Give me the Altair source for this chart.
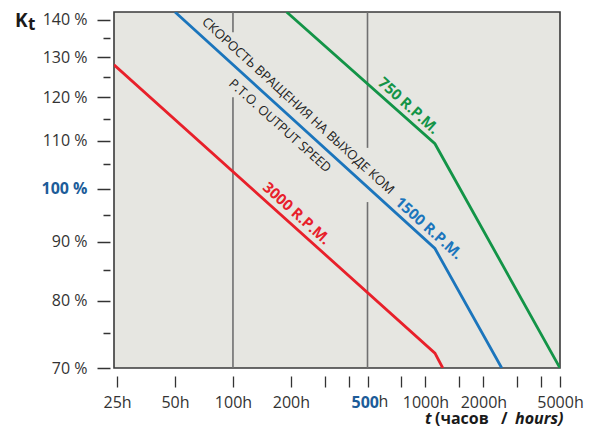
import altair as alt
import pandas as pd

# ---- data ----
hours_3000 = [24.1, 1120, 1230]
kt_3000 = [128.0, 72.1, 70.0]
hours_1500 = [50, 1120, 2490]
kt_1500 = [142.2, 88.8, 70.0]
hours_750 = [190, 1120, 5000]
kt_750 = [142.2, 109.4, 70.0]

series_names = ["3000 R.P.M.", "1500 R.P.M.", "750 R.P.M."]
series_colors = ["#e8202a", "#1b75bc", "#139447"]

y_major = [70, 80, 90, 100, 110, 120, 130, 140]
y_minor = [75, 85, 95, 105, 115, 125, 135]
x_ticks = [25, 50, 100, 200, 300, 400, 500, 750, 1000, 1500, 2000, 3000, 4000, 5000]
x_labelled = [25, 50, 100, 200, 1000, 2000, 5000]

# vertical reference lines (with gaps where the notes cross them)
grid_hours = [100, 100, 500, 500]
grid_from = [70, 136.6, 70, 108.5]
grid_to = [120, 142.2, 97.4, 142.2]

rpm_label_hours = [196, 955, 749]
rpm_label_kt = [93.7, 91.0, 116.1]

note_ru = "СКОРОСТЬ ВРАЩЕНИЯ НА ВЫХОДЕ КОМ"
note_en = "P.T.O. OUTPUT SPEED"
note_hours = [196]
note_kt = [115.7]

X_DOMAIN = [24.1, 5000]
Y_DOMAIN = [70, 142.2]
FONT = "Open Sans"
BLUE_LABEL = "#1d5c99"
INK = "#333333"
DARK = "#1a1a1a"

xscale = alt.Scale(type="log", domain=X_DOMAIN, nice=False)
yscale = alt.Scale(type="log", domain=Y_DOMAIN, nice=False)

lines_df = pd.DataFrame({
    "hours": hours_3000 + hours_1500 + hours_750,
    "kt": kt_3000 + kt_1500 + kt_750,
    "series": [series_names[0]] * 3 + [series_names[1]] * 3 + [series_names[2]] * 3,
    "order": [0, 1, 2] * 3,
})
grid_df = pd.DataFrame({"hours": grid_hours, "y1": grid_from, "y2": grid_to})
rpm_df = pd.DataFrame({"hours": rpm_label_hours, "kt": rpm_label_kt,
                       "text": series_names, "color": series_colors})
note_df = pd.DataFrame({"hours": note_hours, "kt": note_kt})
one = pd.DataFrame({"a": [0]})

x_axis = alt.Axis(
    values=x_ticks, title=None, domain=False, grid=False, offset=8, tickSize=11,
    tickColor=INK, tickWidth=1.3, labelFont=FONT, labelFontSize=16, labelColor={
        "condition": {"test": "datum.value == 500", "value": BLUE_LABEL}, "value": INK},
    labelFontWeight={"condition": {"test": "datum.value == 500", "value": "bold"}, "value": "normal"},
    labelAlign={"condition": {"test": "datum.value == 500", "value": "right"}, "value": "center"},
    labelOffset={"condition": {"test": "datum.value == 500", "value": 11}, "value": 0},
    labelExpr="indexof(%s, datum.value) >= 0 ? datum.value + 'h' : (datum.value == 500 ? '500' : '')" % str(x_labelled),
    labelBaseline="alphabetic", labelPadding=20, labelOverlap=False, labelFlush=False, labelBound=False,
)
y_axis = alt.Axis(
    values=y_major, title=None, domain=False, grid=False, offset=4, tickSize=13,
    tickColor=INK, tickWidth=1.5, labelFont=FONT, labelFontSize=16, labelPadding=10,
    labelExpr="datum.value + ' %'", labelOverlap=False,
    labelColor={"condition": {"test": "datum.value == 100", "value": BLUE_LABEL}, "value": INK},
    labelFontWeight={"condition": {"test": "datum.value == 100", "value": "bold"}, "value": "normal"},
)
y_axis_minor = alt.Axis(
    values=y_minor, title=None, domain=False, grid=False, offset=4, tickSize=7,
    tickColor=INK, tickWidth=1.5, labels=False, orient="left",
)

grid = alt.Chart(grid_df).mark_rule(color="#707070", strokeWidth=1.6).encode(
    x=alt.X("hours:Q", scale=xscale, axis=x_axis),
    y=alt.Y("y1:Q", scale=yscale, axis=y_axis),
    y2="y2:Q",
)

lines = alt.Chart(lines_df).mark_line(strokeWidth=2.8, clip=True).encode(
    x=alt.X("hours:Q", scale=xscale),
    y=alt.Y("kt:Q", scale=yscale),
    color=alt.Color("series:N", scale=alt.Scale(domain=series_names, range=series_colors), legend=None),
    order="order:Q",
)

rpm_text = alt.Chart(rpm_df).mark_text(
    font=FONT, fontSize=15, fontWeight="bold", angle=42, dy=-11, align="center", baseline="middle"
).encode(
    x=alt.X("hours:Q", scale=xscale),
    y=alt.Y("kt:Q", scale=yscale),
    text="text:N",
    color=alt.Color("color:N", scale=None),
)

note_ru_text = alt.Chart(note_df).mark_text(
    font=FONT, fontSize=13, angle=42.4, dy=-13, align="center", baseline="middle", color="#222222", text=note_ru
).encode(x=alt.X("hours:Q", scale=xscale), y=alt.Y("kt:Q", scale=yscale))

note_en_text = alt.Chart(note_df).mark_text(
    font=FONT, fontSize=13, angle=42, dy=14, align="center", baseline="middle", color="#222222", text=note_en
).encode(x=alt.X("hours:Q", scale=xscale), y=alt.Y("kt:Q", scale=yscale))

h_text = alt.Chart(one).mark_text(
    font=FONT, fontSize=16, align="left", baseline="alphabetic", dx=11, color=INK, text="h"
).encode(x=alt.XDatum(500, type="quantitative", scale=xscale), y=alt.value(395))

k_text = alt.Chart(one).mark_text(
    font=FONT, fontSize=19, fontWeight="bold", align="left", baseline="alphabetic", color=DARK, text="K"
).encode(x=alt.value(-99), y=alt.value(15))
t_sub = alt.Chart(one).mark_text(
    font=FONT, fontSize=17, fontWeight="bold", align="left", baseline="alphabetic", color=DARK, text="t"
).encode(x=alt.value(-86), y=alt.value(17.5))

TITLE_Y = 412


def title_piece(text, x, italic):
    kw = dict(font=FONT, fontSize=16, fontWeight="bold", align="left", baseline="alphabetic",
              color=DARK, text=text)
    if italic:
        kw["fontStyle"] = "italic"
    return alt.Chart(one).mark_text(**kw).encode(x=alt.value(x), y=alt.value(TITLE_Y))


title_t = title_piece("t", 311, True)
title_paren = title_piece("(часов", 321, False)
title_slash = title_piece("/", 387, False)
title_hours = title_piece("hours)", 401, True)

minor = alt.Chart(pd.DataFrame({"v": y_minor})).mark_rule(opacity=0).encode(
    y=alt.Y("v:Q", scale=yscale, axis=y_axis_minor),
)

main = alt.layer(grid, lines, rpm_text, note_ru_text, note_en_text, h_text,
                 k_text, t_sub, title_t, title_paren, title_slash, title_hours)

chart = alt.layer(main, minor).resolve_scale(y="independent").properties(
    width=446, height=356,
    autosize=alt.AutoSizeParams(type="none"),
    padding={"left": 106, "top": 4, "right": 28, "bottom": 60},
).configure_view(fill="#e6e6e1", stroke="#3a3a3a", strokeWidth=1.6)

chart.save("out.html", embed_options={"renderer": "svg", "actions": False})
